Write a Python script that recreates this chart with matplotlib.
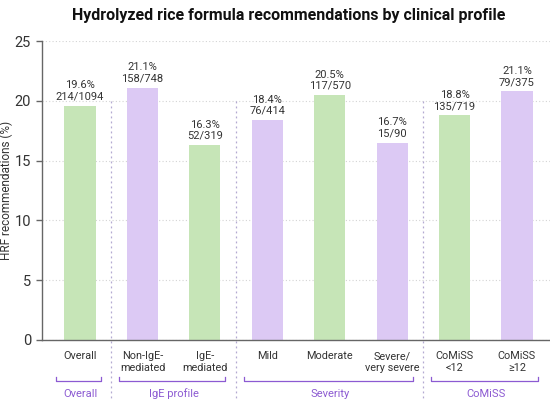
import numpy as np
import matplotlib
matplotlib.use("Agg")
import matplotlib.pyplot as plt

plt.rcParams['font.family'] = ['Roboto', 'DejaVu Sans']

# datos
categorias = ["Overall", "Non-IgE-\nmediated", "IgE-\nmediated", "Mild", "Moderate",
              "Severe/\nvery severe", "CoMiSS\n<12", "CoMiSS\n\u226512"]
alturas = [19.6, 21.1, 16.3, 18.4, 20.5, 16.5, 18.8, 20.8]
porcentajes = ["19.6%", "21.1%", "16.3%", "18.4%", "20.5%", "16.7%", "18.8%", "21.1%"]
conteos = ["214/1094", "158/748", "52/319", "76/414", "117/570", "15/90", "135/719", "79/375"]
grupos = ["Overall", "IgE profile", "Severity", "CoMiSS"]
grupo_rangos = [(0, 0), (1, 2), (3, 5), (6, 7)]

verde = "#c6e5b7"
morado = "#dcc9f4"
morado_oscuro = "#8c5ad2"
colores = [verde, morado, verde, morado, verde, morado, verde, morado]

fig = plt.figure(figsize=(5.5, 4.05), dpi=100)
ax = fig.add_axes([0.0764, 0.1605, 0.9236, 0.738])

x = np.arange(len(categorias))
ax.bar(x, alturas, width=0.5, color=colores, zorder=2)

# etiquetas sobre las barras
for xi, h, p, c in zip(x, alturas, porcentajes, conteos):
    ax.annotate(p + "\n" + c, (xi, h), xytext=(0, 3), textcoords="offset points",
                ha="center", va="bottom", fontsize=8, color="#333333", linespacing=1.15)

ax.set_xlim(-0.61, 7.53)
ax.set_ylim(0, 25)
ax.set_yticks([0, 5, 10, 15, 20, 25])
ax.yaxis.grid(True, linestyle=(0, (1, 2)), color="#d4d4d4", linewidth=0.8, zorder=0)
ax.set_axisbelow(True)

for s in ["top", "right"]:
    ax.spines[s].set_visible(False)
for s in ["left", "bottom"]:
    ax.spines[s].set_color("#666666")
    ax.spines[s].set_linewidth(1.0)

ax.tick_params(axis="y", labelsize=10.5, labelcolor="#333333", color="#666666",
               length=4, width=1, pad=4)
ax.set_xticks(x)
ax.set_xticklabels(categorias, fontsize=7.8, color="#333333", linespacing=1.2)
ax.tick_params(axis="x", length=0, pad=8)

ax.set_ylabel("HRF recommendations (%)", fontsize=8.5, color="#333333")
ax.yaxis.set_label_coords(-0.057, 0.5)

# separadores entre grupos
for (a, b) in grupo_rangos[:-1]:
    xs = b + 0.5
    ax.plot([xs, xs], [20, -5.0], linestyle=(0, (1.5, 2.5)), color="#b3a9d1",
            linewidth=0.9, clip_on=False, zorder=1)

# corchetes y nombres de grupo
for nombre, (a, b) in zip(grupos, grupo_rangos):
    x0, x1 = a - 0.38, b + 0.33
    yb = -3.45
    ax.plot([x0, x0, x1, x1], [yb + 0.35, yb, yb, yb + 0.35], color=morado_oscuro,
            linewidth=0.9, clip_on=False)
    ax.text((a + b) / 2, -4.5, nombre, ha="center", va="center", fontsize=8,
            color=morado_oscuro)

fig.text(0.525, 0.962, "Hydrolyzed rice formula recommendations by clinical profile",
         ha="center", va="center", fontsize=11.5, fontweight="bold", color="#111111")

fig.savefig("out.png", dpi=100)
